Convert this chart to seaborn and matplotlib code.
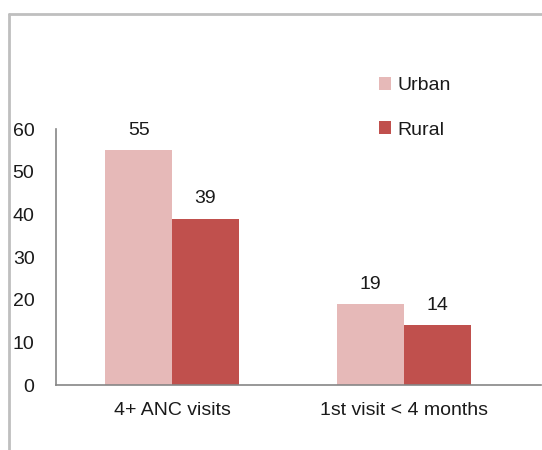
import pandas as pd
import matplotlib.pyplot as plt
from matplotlib.lines import Line2D
import seaborn as sns

# Chart data
categories = ['4+ ANC visits', '1st visit < 4 months']
urban = [55, 19]
rural = [39, 14]
groups = ['Urban', 'Rural']

df = pd.DataFrame({
    'Indicator': categories * 2,
    'Residence': ['Urban'] * len(categories) + ['Rural'] * len(categories),
    'Value': urban + rural,
})

sns.set_style('white')
plt.rcParams['font.family'] = ['Liberation Sans', 'DejaVu Sans']

fig = plt.figure(figsize=(5.42, 4.5), dpi=100)
ax = fig.add_axes([56 / 542, 65 / 450, 485 / 542, 256 / 450])

palette = {'Urban': '#E6B9B8', 'Rural': '#C0504D'}
sns.barplot(data=df, x='Indicator', y='Value', hue='Residence', hue_order=groups,
            palette=palette, width=0.575, saturation=1, linewidth=0, ax=ax)

for c in ax.containers:
    ax.bar_label(c, fmt='%d', padding=8, fontsize=14, color='#1a1a1a')

ax.set_ylim(0, 60)
ax.set_xlim(-0.5, 1.59)
ax.set_yticks(range(0, 61, 10))
ax.set_xlabel('')
ax.set_ylabel('')
ax.tick_params(axis='y', length=0, pad=15.5, labelsize=14, labelcolor='#1a1a1a')
ax.tick_params(axis='x', length=0, pad=12, labelsize=14, labelcolor='#1a1a1a')
for s in ['top', 'right']:
    ax.spines[s].set_visible(False)
for s in ['left', 'bottom']:
    ax.spines[s].set_color('#868686')
    ax.spines[s].set_linewidth(1.2)

ax.legend(loc='upper left', bbox_to_anchor=(369 / 542, 383 / 450), bbox_transform=fig.transFigure,
          frameon=False, fontsize=14, handlelength=0.65, handleheight=0.65,
          handletextpad=0.3, labelspacing=1.4, borderpad=0, labelcolor='#1a1a1a')

# outer chart frame (partially cropped)
fig.add_artist(Line2D([8.5 / 542, 1], [1 - 14 / 450, 1 - 14 / 450], color='#BFBFBF', lw=2))
fig.add_artist(Line2D([8.5 / 542, 8.5 / 542], [0, 1 - 14 / 450], color='#BFBFBF', lw=2))

fig.savefig('out.png', dpi=100)
